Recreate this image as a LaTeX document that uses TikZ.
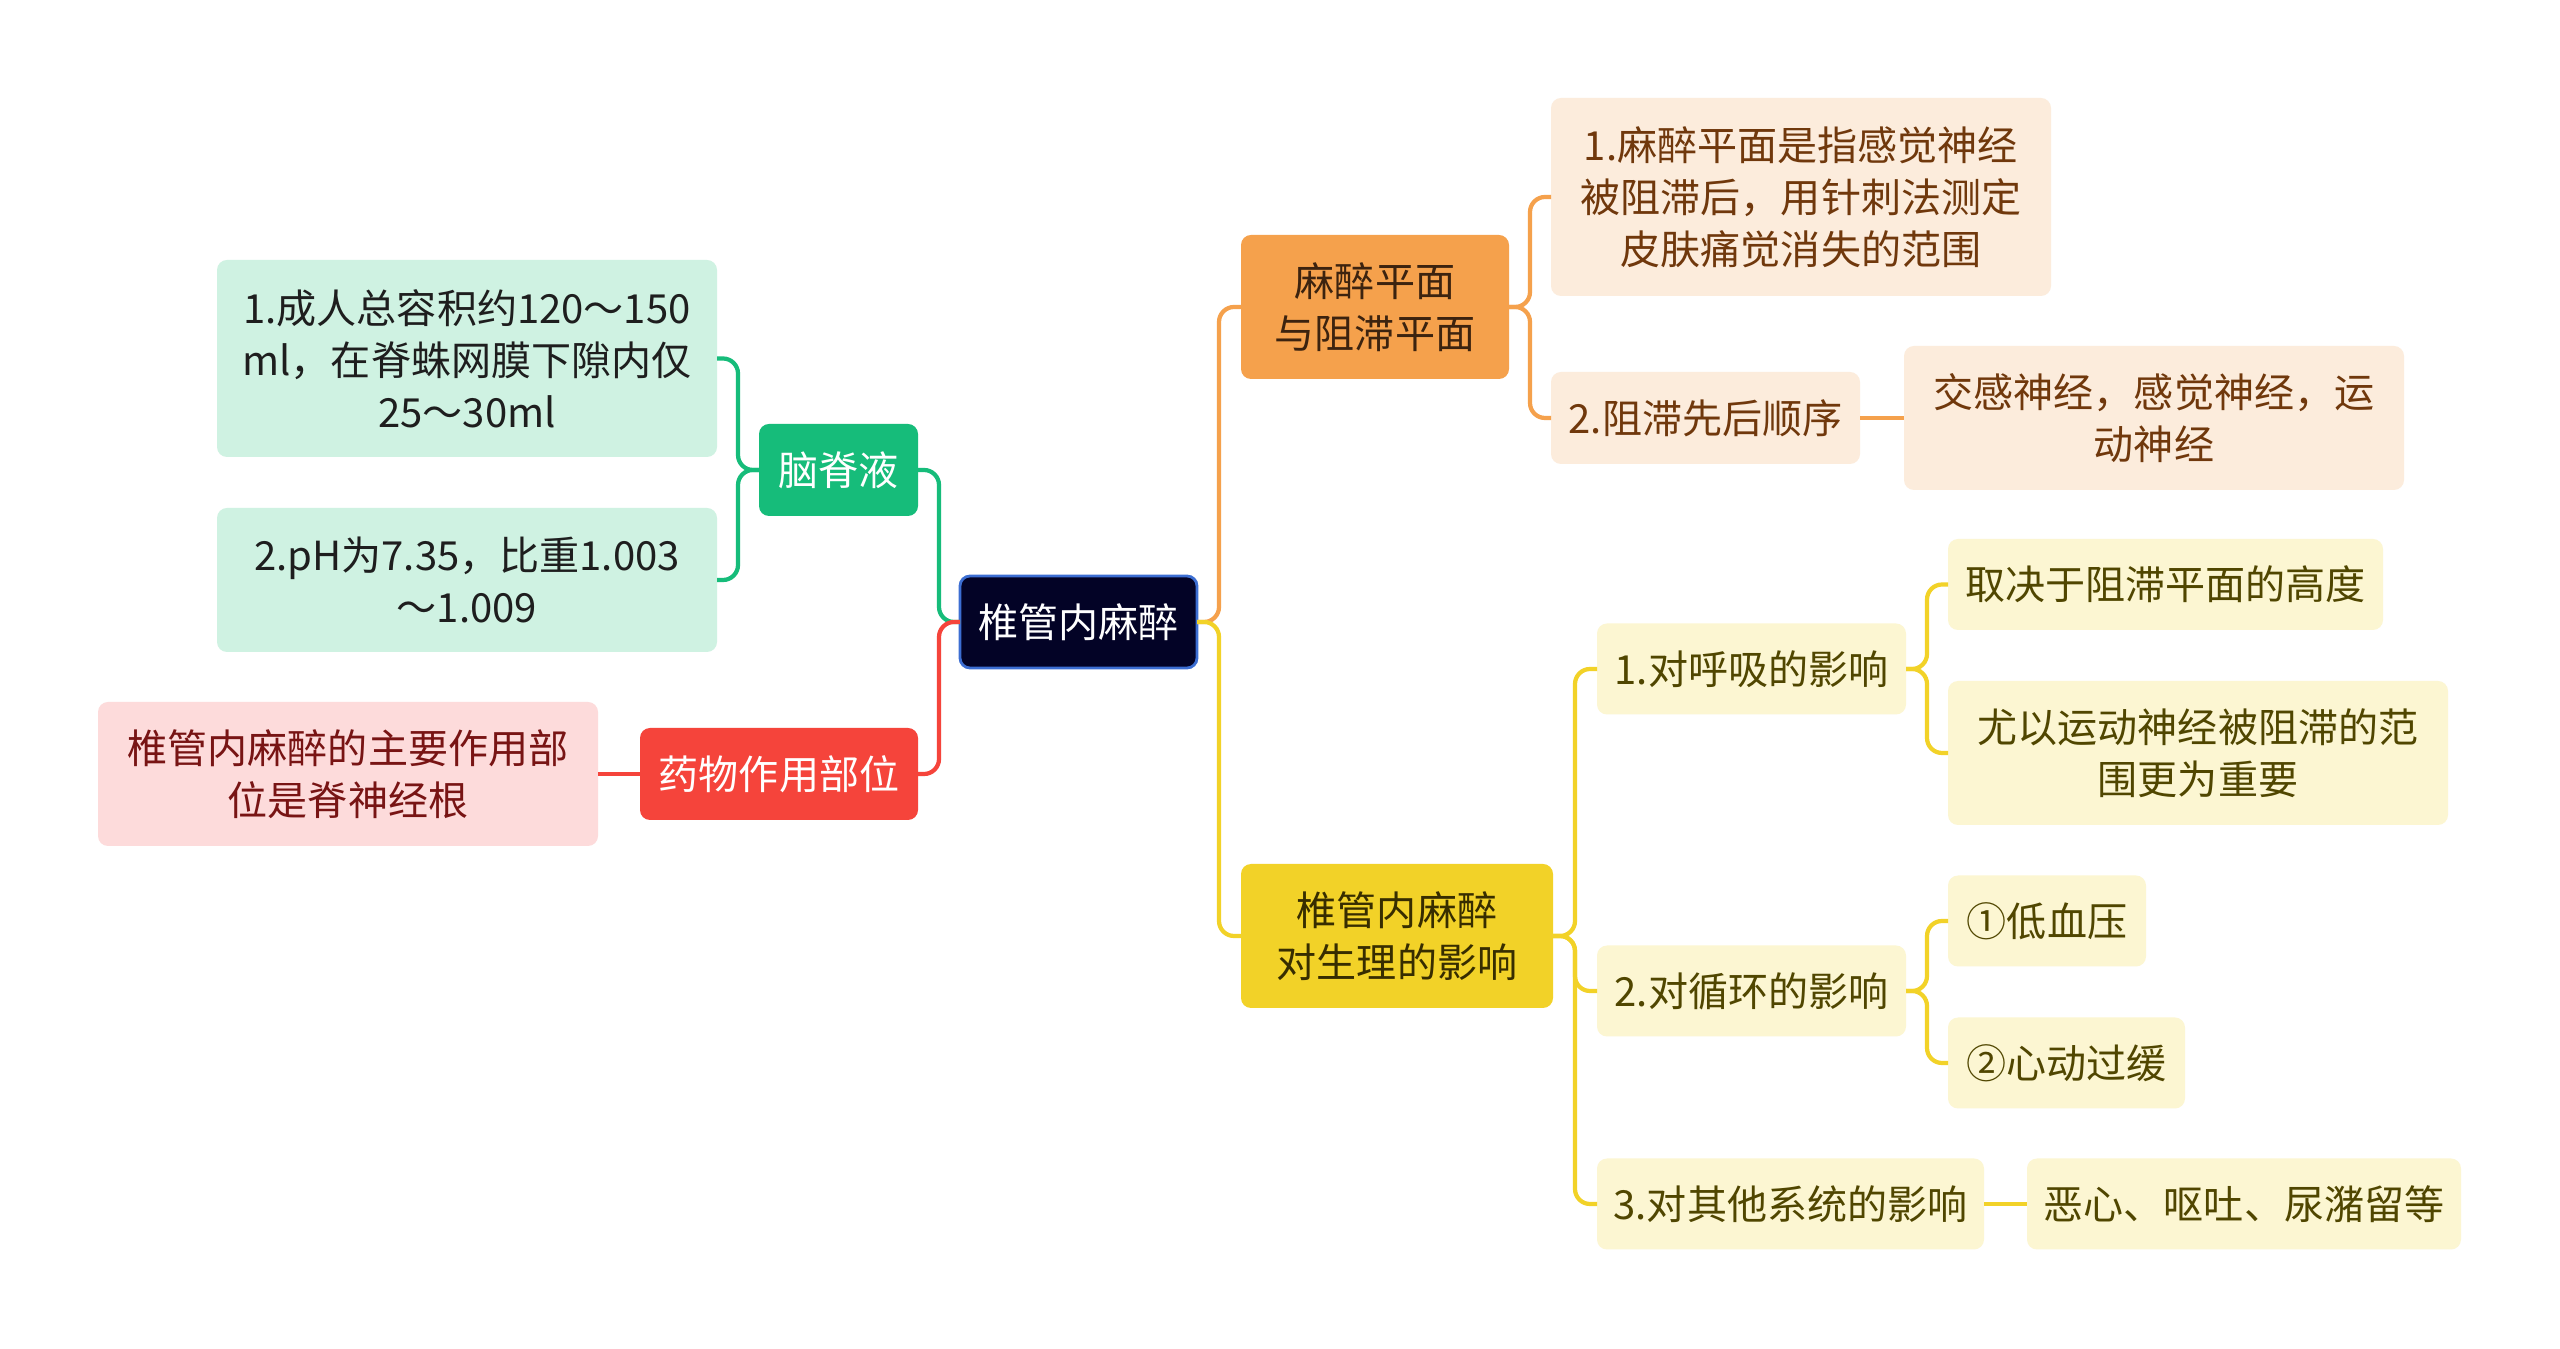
\documentclass[tikz,border=0pt]{standalone}
\usepackage{fontspec}
\usepackage{tikz}
\usetikzlibrary{positioning}
\newfontfamily\cjk{Noto Sans CJK SC}

\definecolor{rootfill}{RGB}{3,3,38}
\definecolor{rootline}{RGB}{60,110,210}
\definecolor{grmain}{RGB}{22,188,122}
\definecolor{grleaf}{RGB}{207,242,226}
\definecolor{grtext}{RGB}{30,30,30}
\definecolor{rdmain}{RGB}{245,68,59}
\definecolor{rdleaf}{RGB}{253,219,219}
\definecolor{rdtext}{RGB}{120,20,20}
\definecolor{ormain}{RGB}{245,161,76}
\definecolor{orleaf}{RGB}{252,236,220}
\definecolor{ortext}{RGB}{112,56,12}
\definecolor{ordark}{RGB}{60,35,15}
\definecolor{ylmain}{RGB}{242,210,40}
\definecolor{ylleaf}{RGB}{252,246,210}
\definecolor{yltext}{RGB}{80,70,0}
\definecolor{yldark}{RGB}{55,45,0}

\begin{document}
\begin{tikzpicture}[line width=1.2pt]
    \tikzset{
        box/.style={rectangle, rounded corners=0.1cm, inner sep=0pt, outer sep=0pt, align=center, font=\cjk\fontsize{11.4}{14.8}\selectfont},
        rootbox/.style={box, draw=rootline, line width=0.8pt, fill=rootfill, text=white, minimum height=0.92cm, minimum width=2.37cm},
        grmainbox/.style={box, fill=grmain, text=white, minimum height=0.92cm},
        grleafbox/.style={box, fill=grleaf, text=grtext, minimum width=5cm},
        rdmainbox/.style={box, fill=rdmain, text=white, minimum height=0.92cm},
        rdleafbox/.style={box, fill=rdleaf, text=rdtext, minimum width=5cm},
        ormainbox/.style={box, fill=ormain, text=ordark},
        orleafbox/.style={box, fill=orleaf, text=ortext},
        ylmainbox/.style={box, fill=ylmain, text=yldark},
        ylleafbox/.style={box, fill=ylleaf, text=yltext, minimum height=0.91cm},
        link/.style={draw, line width=1.2pt, rounded corners=0.15cm}
    }
    \fill [white] (0,0) rectangle (25.6,-13.49);
    \useasboundingbox (0,0) rectangle (25.6,-13.49);

    \node [rootbox] (root) at (10.785,-6.22) {椎管内麻醉};

    % left side
    \node [grmainbox, minimum width=1.59cm, left=0.42cm of root, yshift=1.52cm] (csf) {脑脊液};
    \node [rdmainbox, minimum width=2.78cm, left=0.42cm of root, yshift=-1.52cm] (site) {药物作用部位};
    \node [grleafbox, minimum height=1.97cm, left=0.42cm of csf, yshift=1.115cm] (csfa) {1.成人总容积约120～150\\ml，在脊蛛网膜下隙内仅\\25～30ml};
    \node [grleafbox, minimum height=1.44cm, left=0.42cm of csf, yshift=-1.1cm] (csfb) {2.pH为7.35，比重1.003\\～1.009};
    \node [rdleafbox, minimum height=1.44cm, left=0.42cm of site] (sitea) {椎管内麻醉的主要作用部\\位是脊神经根};

    % right side
    \node [ormainbox, minimum width=2.68cm, minimum height=1.44cm, right=0.44cm of root, yshift=3.15cm] (level) {麻醉平面\\与阻滞平面};
    \node [orleafbox, minimum width=5cm, minimum height=1.98cm, right=0.42cm of level, yshift=1.1cm] (levela) {1.麻醉平面是指感觉神经\\被阻滞后，用针刺法测定\\皮肤痛觉消失的范围};
    \node [orleafbox, minimum width=3.09cm, minimum height=0.92cm, right=0.42cm of level, yshift=-1.11cm] (levelb) {2.阻滞先后顺序};
    \node [orleafbox, minimum width=5cm, minimum height=1.44cm, right=0.44cm of levelb] (order) {交感神经，感觉神经，运\\动神经};

    \node [ylmainbox, minimum width=3.12cm, minimum height=1.44cm, right=0.44cm of root, yshift=-3.14cm] (phys) {椎管内麻醉\\对生理的影响};
    \node [ylleafbox, minimum width=3.09cm, right=0.44cm of phys, yshift=2.67cm] (resp) {1.对呼吸的影响};
    \node [ylleafbox, minimum width=3.09cm, right=0.44cm of phys, yshift=-0.55cm] (circ) {2.对循环的影响};
    \node [ylleafbox, minimum width=3.87cm, right=0.44cm of phys, yshift=-2.68cm] (other) {3.对其他系统的影响};
    \node [ylleafbox, minimum width=4.35cm, right=0.42cm of resp, yshift=0.845cm] (respa) {取决于阻滞平面的高度};
    \node [ylleafbox, minimum width=5cm, minimum height=1.44cm, right=0.42cm of resp, yshift=-0.84cm] (respb) {尤以运动神经被阻滞的范\\围更为重要};
    \node [ylleafbox, minimum width=1.98cm, right=0.42cm of circ, yshift=0.7cm] (circa) {①低血压};
    \node [ylleafbox, minimum width=2.37cm, right=0.42cm of circ, yshift=-0.72cm] (circb) {②心动过缓};
    \node [ylleafbox, minimum width=4.34cm, right=0.43cm of other] (othera) {恶心、呕吐、尿潴留等};

    \path [link, grmain] (csf.east) -| ([xshift=-0.21cm]root.west) [sharp corners] -- (root.west);
    \path [link, rdmain] (site.east) -| ([xshift=-0.21cm]root.west) [sharp corners] -- (root.west);
    \path [link, grmain] (csfa.east) -| ([xshift=-0.21cm]csf.west) [sharp corners] -- (csf.west);
    \path [link, grmain] (csfb.east) -| ([xshift=-0.21cm]csf.west) [sharp corners] -- (csf.west);
    \path [link, rdmain] (sitea) -- (site);

    \path [link, ormain] (level.west) -| ([xshift=0.22cm]root.east) [sharp corners] -- (root.east);
    \path [link, ylmain] (phys.west) -| ([xshift=0.22cm]root.east) [sharp corners] -- (root.east);
    \path [link, ormain] (levela.west) -| ([xshift=0.21cm]level.east) [sharp corners] -- (level.east);
    \path [link, ormain] (levelb.west) -| ([xshift=0.21cm]level.east) [sharp corners] -- (level.east);
    \path [link, ormain] (levelb) -- (order);

    \path [link, ylmain] (resp.west) -| ([xshift=0.22cm]phys.east) [sharp corners] -- (phys.east);
    \path [link, ylmain] (circ.west) -| ([xshift=0.22cm]phys.east) [sharp corners] -- (phys.east);
    \path [link, ylmain] (other.west) -| ([xshift=0.22cm]phys.east) [sharp corners] -- (phys.east);
    \path [link, ylmain] (respa.west) -| ([xshift=0.21cm]resp.east) [sharp corners] -- (resp.east);
    \path [link, ylmain] (respb.west) -| ([xshift=0.21cm]resp.east) [sharp corners] -- (resp.east);
    \path [link, ylmain] (circa.west) -| ([xshift=0.21cm]circ.east) [sharp corners] -- (circ.east);
    \path [link, ylmain] (circb.west) -| ([xshift=0.21cm]circ.east) [sharp corners] -- (circ.east);
    \path [link, ylmain] (other) -- (othera);
\end{tikzpicture}
\end{document}
